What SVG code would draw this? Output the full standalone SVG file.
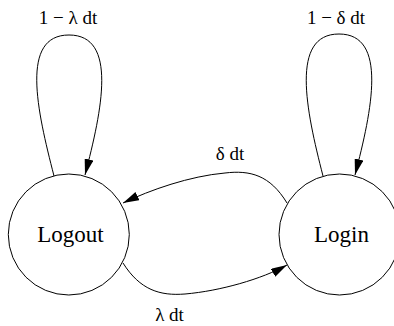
<svg xmlns="http://www.w3.org/2000/svg" width="394" height="326" viewBox="0 0 394 326">
  <style>
    .node circle { fill: #ffffff; stroke: #000000; stroke-width: 1; }
    .edge { fill: none; stroke: #000000; stroke-width: 1; }
  </style>
  <defs>
    <marker id="arrow" viewBox="0 0 16 9" refX="16" refY="4.5" markerWidth="16" markerHeight="9" markerUnits="userSpaceOnUse" orient="auto">
      <path d="M0,0 L16,4.5 L0,9 Z" fill="#000000"/>
    </marker>
  </defs>
  <rect width="394" height="326" fill="#ffffff"/>
  <g id="node-logout" class="node">
    <circle cx="68.8" cy="234.5" r="60.5"/>
    <text x="70.5" y="242" text-anchor="middle" font-family="Liberation Serif, Times New Roman, serif" font-size="23" fill="#000000">Logout</text>
  </g>
  <g id="node-login" class="node">
    <circle cx="339.5" cy="234.5" r="60.5"/>
    <text x="341.5" y="242" text-anchor="middle" font-family="Liberation Serif, Times New Roman, serif" font-size="23" fill="#000000">Login</text>
  </g>
  <g id="connectors">
    <path class="edge" d="M54,176 C37,110 20,35 69,35 C118,35 102,110 85,175" marker-end="url(#arrow)"/>
    <path class="edge" d="M323,176 C306,110 290,34 339,34 C388,34 372,110 355,175" marker-end="url(#arrow)"/>
    <path class="edge" d="M287,203 C270,175 250,170 225,173 C190,176 150,190 123,203" marker-end="url(#arrow)"/>
    <path class="edge" d="M123,263 C140,290 160,296 185,294 C220,291 262,279 287,265" marker-end="url(#arrow)"/>
    <g font-family="Liberation Serif, Times New Roman, serif" font-size="19" fill="#000000" text-anchor="middle">
      <text x="68" y="24">1 − λ  dt</text>
      <text x="336" y="24">1 − δ  dt</text>
      <text x="230" y="160">δ dt</text>
      <text x="169.5" y="321">λ  dt</text>
    </g>
  </g>
</svg>
